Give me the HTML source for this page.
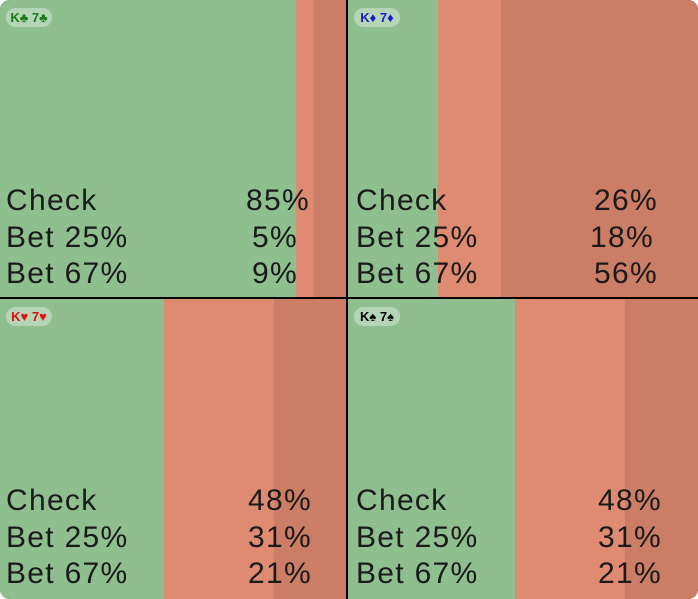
<!DOCTYPE html><html><head><style>
*{margin:0;padding:0;box-sizing:border-box}
body{width:698px;height:599px;background:#fff;overflow:hidden;font-family:"Liberation Sans",sans-serif}
#w{position:absolute;left:0;top:0;width:698px;height:599px;background:#000;border-radius:10px;overflow:hidden}
.p{position:absolute;overflow:hidden}
.s{position:absolute;top:0;bottom:0}
.g{background:#8fbf8f}.l{background:#de8b71}.d{background:#cc7d66}
.t{position:absolute;font-size:30px;letter-spacing:1.3px;color:#1a1a1a;white-space:nowrap;line-height:1}
.b{position:absolute;left:6px;top:8px;width:46px;height:19px;border-radius:10px;background:rgba(255,255,255,.35);font-size:13px;font-weight:bold;line-height:19px;text-align:center;letter-spacing:0}
</style></head><body><div id="w">
<div class="p" style="left:0;top:0;width:346px;height:297px">
<div class="s g" style="left:0;width:296px"></div><div class="s l" style="left:296px;width:18px"></div><div class="s d" style="left:314px;width:40px"></div>
<div class="b" style="color:#1a7a1a">K♣ 7♣</div>
<div class="t" style="left:6px;top:186px">Check</div><div class="t" style="left:6px;top:223px">Bet 25%</div><div class="t" style="left:6px;top:259px">Bet 67%</div>
<div class="t" style="right:36px;top:186px">85%</div><div class="t" style="right:48px;top:223px">5%</div><div class="t" style="right:48px;top:259px">9%</div>
</div>
<div class="p" style="left:348px;top:0;width:350px;height:297px">
<div class="s g" style="left:0;width:90px"></div><div class="s l" style="left:90px;width:63px"></div><div class="s d" style="left:153px;width:200px"></div>
<div class="b" style="color:#1a1acc">K♦ 7♦</div>
<div class="t" style="left:8px;top:186px">Check</div><div class="t" style="left:8px;top:223px">Bet 25%</div><div class="t" style="left:8px;top:259px">Bet 67%</div>
<div class="t" style="right:40px;top:186px">26%</div><div class="t" style="right:44px;top:223px">18%</div><div class="t" style="right:40px;top:259px">56%</div>
</div>
<div class="p" style="left:0;top:299px;width:346px;height:300px">
<div class="s g" style="left:0;width:164px"></div><div class="s l" style="left:164px;width:110px"></div><div class="s d" style="left:274px;width:80px"></div>
<div class="b" style="color:#e01010">K♥ 7♥</div>
<div class="t" style="left:6px;top:187px">Check</div><div class="t" style="left:6px;top:224px">Bet 25%</div><div class="t" style="left:6px;top:260px">Bet 67%</div>
<div class="t" style="left:248px;top:187px">48%</div><div class="t" style="left:248px;top:224px">31%</div><div class="t" style="left:248px;top:260px">21%</div>
</div>
<div class="p" style="left:348px;top:299px;width:350px;height:300px">
<div class="s g" style="left:0;width:167px"></div><div class="s l" style="left:167px;width:110px"></div><div class="s d" style="left:277px;width:80px"></div>
<div class="b" style="color:#000">K♠ 7♠</div>
<div class="t" style="left:8px;top:187px">Check</div><div class="t" style="left:8px;top:224px">Bet 25%</div><div class="t" style="left:8px;top:260px">Bet 67%</div>
<div class="t" style="left:250px;top:187px">48%</div><div class="t" style="left:250px;top:224px">31%</div><div class="t" style="left:250px;top:260px">21%</div>
</div>
</div></body></html>
